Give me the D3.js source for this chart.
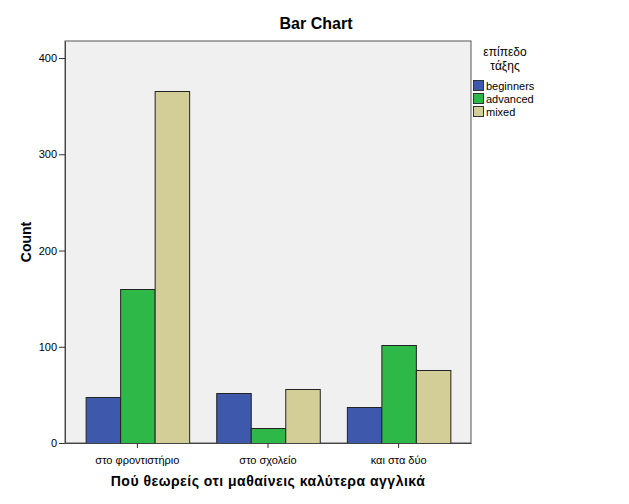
<!DOCTYPE html>
<html>
<head>
<meta charset="utf-8">
<script src="https://cdn.jsdelivr.net/npm/d3@7"></script>
<style>
body { margin: 0; background: #fff; }
text { font-family: "Liberation Sans", Arial, sans-serif; }
</style>
</head>
<body>
<svg id="chart" width="629" height="504"></svg>
<script>
// data
const categories = ["στο φροντιστήριο", "στο σχολείο", "και στα δύο"];
const seriesNames = ["beginners", "advanced", "mixed"];
const beginners = [48, 52, 37];
const advanced = [160, 16, 102];
const mixed = [366, 56, 76];
const yTicks = [0, 100, 200, 300, 400];
const colors = ["#3e58ac", "#2eb848", "#d3ce97"];

const values = [beginners, advanced, mixed];
const rows = categories.map((c, i) => ({ cat: c, vals: seriesNames.map((s, j) => ({ key: s, v: values[j][i] })) }));

const svg = d3.select("#chart");
const plotL = 65, plotR = 471, plotT = 41, plotB = 443;

const x0 = d3.scaleBand().domain(categories).range([plotL, plotR]).paddingInner(0.2075).paddingOuter(0.158);
const x1 = d3.scaleBand().domain(seriesNames).range([0, x0.bandwidth()]);
const y = d3.scaleLinear().domain([0, 417.7]).range([plotB, plotT]);
const color = d3.scaleOrdinal().domain(seriesNames).range(colors);

// plot background
svg.append("rect")
    .attr("x", plotL).attr("y", plotT)
    .attr("width", plotR - plotL).attr("height", plotB - plotT)
    .attr("fill", "#f0f0f0")
    .attr("stroke", "#555").attr("stroke-width", 1);

// bars
const groups = svg.append("g").selectAll("g")
    .data(rows).join("g")
    .attr("transform", d => `translate(${x0(d.cat)},0)`);

groups.selectAll("rect")
    .data(d => d.vals).join("rect")
    .attr("x", d => x1(d.key) + 0.5)
    .attr("y", d => Math.round(y(d.v)) + 0.5)
    .attr("width", x1.bandwidth())
    .attr("height", d => plotB - Math.round(y(d.v)))
    .attr("fill", d => color(d.key))
    .attr("stroke", "#222").attr("stroke-width", 1);

// y axis
const yAxis = svg.append("g")
    .attr("transform", `translate(${plotL},0)`)
    .call(d3.axisLeft(y).tickValues(yTicks).tickSize(6).tickSizeOuter(0).tickPadding(2));
yAxis.select(".domain").attr("stroke", "#444");
yAxis.selectAll(".tick line").attr("stroke", "#333");
yAxis.selectAll("text").attr("font-size", 11).attr("fill", "#000");

// x axis
const xAxis = svg.append("g")
    .attr("transform", `translate(0,${plotB})`)
    .call(d3.axisBottom(x0).tickSize(5).tickPadding(8).tickSizeOuter(0));
xAxis.select(".domain").attr("stroke", "#444");
xAxis.selectAll(".tick line").attr("stroke", "#333");
xAxis.selectAll("text").attr("font-size", 11).attr("fill", "#000");

// title and axis titles
svg.append("text")
    .attr("x", 316).attr("y", 29)
    .attr("text-anchor", "middle")
    .attr("font-size", 16).attr("font-weight", "bold")
    .text("Bar Chart");

svg.append("text")
    .attr("transform", `translate(31,${(plotT + plotB) / 2}) rotate(-90)`)
    .attr("text-anchor", "middle")
    .attr("font-size", 14).attr("font-weight", "bold")
    .text("Count");

svg.append("text")
    .attr("x", (plotL + plotR) / 2).attr("y", 486)
    .attr("text-anchor", "middle")
    .attr("font-size", 14).attr("font-weight", "bold")
    .attr("letter-spacing", 0.5)
    .text("Πού θεωρείς οτι μαθαίνεις καλύτερα αγγλικά");

// legend
const legend = svg.append("g");
legend.append("text")
    .attr("x", 505).attr("y", 56)
    .attr("text-anchor", "middle").attr("font-size", 12)
    .text("επίπεδο");
legend.append("text")
    .attr("x", 505).attr("y", 70)
    .attr("text-anchor", "middle").attr("font-size", 12)
    .text("τάξης");

const items = legend.selectAll("g.item")
    .data(seriesNames).join("g")
    .attr("class", "item")
    .attr("transform", (d, i) => `translate(473,${80 + i * 13})`);
items.append("rect")
    .attr("x", 0.5).attr("y", 0.5)
    .attr("width", 10).attr("height", 10)
    .attr("fill", d => color(d))
    .attr("stroke", "#333");
items.append("text")
    .attr("x", 13).attr("y", 9.5)
    .attr("font-size", 11)
    .text(d => d);
</script>
</body>
</html>
